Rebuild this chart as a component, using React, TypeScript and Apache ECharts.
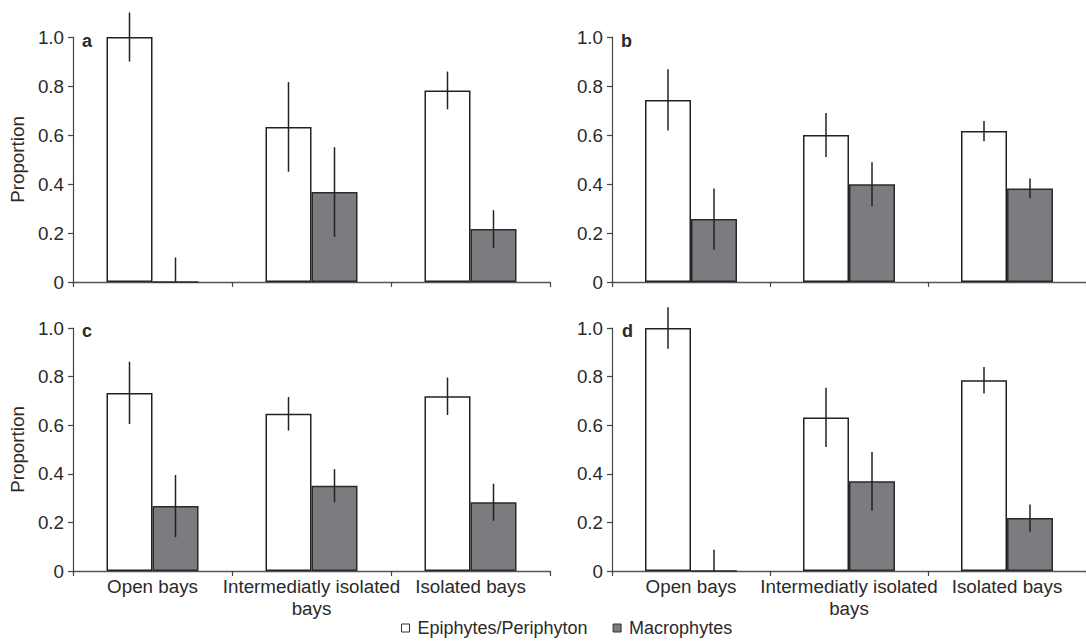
import React, { useEffect, useRef } from "react";
import * as echarts from "echarts";

const categories = ["Open bays", "Intermediatly isolated\nbays", "Isolated bays"];
const seriesNames = ["Epiphytes/Periphyton", "Macrophytes"];
const panelLabels = ["a", "b", "c", "d"];

const epiA = [1.0, 0.633, 0.782];
const epiErrA = [0.1, 0.183, 0.077];
const macA = [0, 0.367, 0.216];
const macErrA = [0.1, 0.183, 0.077];

const epiB = [0.743, 0.6, 0.616];
const epiErrB = [0.125, 0.09, 0.041];
const macB = [0.257, 0.399, 0.382];
const macErrB = [0.125, 0.09, 0.04];

const epiC = [0.733, 0.647, 0.719];
const epiErrC = [0.128, 0.069, 0.077];
const macC = [0.267, 0.351, 0.283];
const macErrC = [0.128, 0.068, 0.076];

const epiD = [1.0, 0.632, 0.785];
const epiErrD = [0.085, 0.122, 0.055];
const macD = [0, 0.369, 0.218];
const macErrD = [0.087, 0.121, 0.056];

const FONT = "Liberation Sans, Arial, sans-serif";
const TEXT = "#2a2a2a";
const FS = 18.8;
const BAR_W = 46;

export default function App() {
  const ref = useRef<HTMLDivElement>(null);
  useEffect(() => {
    if (!ref.current) return;
    const chart = echarts.init(ref.current, undefined, { renderer: "svg" });
    const panels = [
      { epi: epiA, epiErr: epiErrA, mac: macA, macErr: macErrA },
      { epi: epiB, epiErr: epiErrB, mac: macB, macErr: macErrB },
      { epi: epiC, epiErr: epiErrC, mac: macC, macErr: macErrC },
      { epi: epiD, epiErr: epiErrD, mac: macD, macErr: macErrD },
    ];
    const grids = [
      { left: 73, top: 37, width: 477, height: 245 },
      { left: 612, top: 37, width: 477, height: 245 },
      { left: 73, top: 328, width: 477, height: 243 },
      { left: 612, top: 328, width: 477, height: 243 },
    ];
    const xAxes = grids.map((_, i) => ({
      type: "category",
      gridIndex: i,
      data: categories,
      boundaryGap: true,
      axisLine: { lineStyle: { color: "#555", width: 1.3 } },
      axisTick: { show: true, length: 5, alignWithLabel: false, lineStyle: { color: "#444", width: 1.2 } },
      axisLabel: {
        show: i >= 2,
        interval: 0,
        fontSize: FS,
        fontFamily: FONT,
        color: TEXT,
        lineHeight: 22,
        margin: 4,
        align: "center",
      },
    }));
    const yAxes = grids.map((_, i) => ({
      type: "value",
      gridIndex: i,
      min: 0,
      max: 1,
      interval: 0.2,
      name: i % 2 === 0 ? "Proportion" : "",
      nameLocation: "middle",
      nameGap: 46,
      nameTextStyle: { fontSize: FS, fontFamily: FONT, color: TEXT },
      splitLine: { show: false },
      axisLine: { show: true, lineStyle: { color: "#444", width: 1.2 } },
      axisTick: { show: true, length: 5, lineStyle: { color: "#444", width: 1.2 } },
      axisLabel: {
        fontSize: FS,
        fontFamily: FONT,
        color: TEXT,
        margin: 9,
        formatter: (v: number) => (v === 0 ? "0" : v.toFixed(1)),
      },
    }));
    const series: any[] = [];
    panels.forEach((p, i) => {
      series.push({
        type: "bar",
        name: seriesNames[0],
        xAxisIndex: i,
        yAxisIndex: i,
        data: p.epi,
        barWidth: BAR_W,
        barGap: "0%",
        itemStyle: { color: "#ffffff", borderColor: "#222", borderWidth: 1.5 },
      });
      series.push({
        type: "bar",
        name: seriesNames[1],
        xAxisIndex: i,
        yAxisIndex: i,
        data: p.mac,
        barWidth: BAR_W,
        barGap: "0%",
        itemStyle: { color: "#7b7c7f", borderColor: "#2a2a2a", borderWidth: 1.5 },
      });
      const errData: number[][] = [];
      p.epi.forEach((v, k) => errData.push([k, Math.max(0, v - p.epiErr[k]), v + p.epiErr[k], -1]));
      p.mac.forEach((v, k) => errData.push([k, Math.max(0, v - p.macErr[k]), v + p.macErr[k], 1]));
      series.push({
        type: "custom",
        xAxisIndex: i,
        yAxisIndex: i,
        clip: false,
        z: 5,
        silent: true,
        encode: { x: 0, y: [1, 2] },
        data: errData,
        renderItem: (params: any, api: any) => {
          const x = api.value(0);
          const lo = api.value(1);
          const hi = api.value(2);
          const side = api.value(3);
          const pHi = api.coord([x, hi]);
          const pLo = api.coord([x, lo]);
          const off = (side * BAR_W) / 2;
          return {
            type: "line",
            shape: { x1: pHi[0] + off, y1: pHi[1], x2: pHi[0] + off, y2: pLo[1] },
            style: { stroke: "#222", lineWidth: 1.5 },
          };
        },
      });
    });
    const labelPos = [
      { left: 82, top: 32 },
      { left: 621, top: 32 },
      { left: 82, top: 322 },
      { left: 622, top: 322 },
    ];
    chart.setOption({
      animation: false,
      backgroundColor: "#ffffff",
      grid: grids,
      xAxis: xAxes,
      yAxis: yAxes,
      series,
      legend: {
        left: 396,
        top: 614,
        itemWidth: 8,
        itemHeight: 8,
        itemGap: 25,
        icon: "rect",
        textStyle: { fontSize: 18, fontFamily: FONT, color: TEXT, padding: [0, 0, 0, 3] },
        data: [
          { name: seriesNames[0], itemStyle: { color: "#fff", borderColor: "#333", borderWidth: 1 } },
          { name: seriesNames[1], itemStyle: { color: "#7b7c7f", borderColor: "#333", borderWidth: 1 } },
        ],
      },
      graphic: panelLabels.map((t, i) => ({
        type: "text",
        left: labelPos[i].left,
        top: labelPos[i].top,
        style: { text: t, font: `bold 18px ${FONT}`, fill: TEXT },
      })),
    });
    return () => chart.dispose();
  }, []);
  return (
    <div
      ref={ref}
      style={{ position: "absolute", left: 0, top: 0, width: 1086, height: 643, background: "#fff" }}
    />
  );
}
